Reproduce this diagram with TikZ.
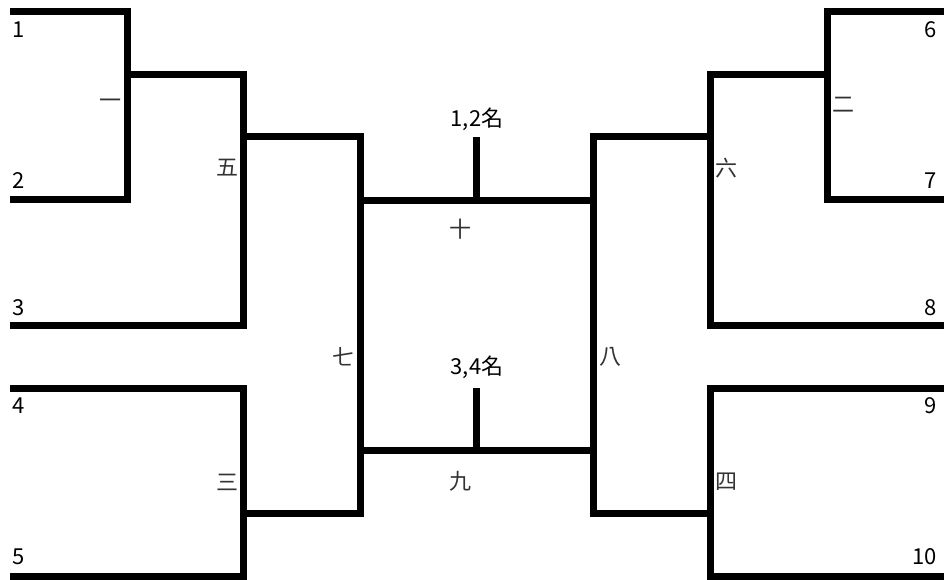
\documentclass[tikz,border=0pt]{standalone}
\usepackage{fontspec}
\setmainfont{Noto Sans CJK TC}
\usetikzlibrary{positioning}

\begin{document}
\begin{tikzpicture}[x=1pt, y=-1pt, line join=miter]
  \tikzstyle{bracket} = [draw, line width=7pt]
  \tikzstyle{seed} = [font=\fontsize{22}{22}\selectfont, inner sep=0pt]
  \tikzstyle{game} = [font=\fontsize{22}{22}\selectfont, text=black!80, inner sep=0pt]
  \useasboundingbox (0,0) rectangle (944,580);

  % entrants
  \coordinate (t1) at (10,12);
  \coordinate (t2) at (10,199);
  \coordinate (t3) at (10,325);
  \coordinate (t4) at (10,388);
  \coordinate (t5) at (10,576);
  \coordinate (t6) at (944,12);
  \coordinate (t7) at (944,199);
  \coordinate (t8) at (944,325);
  \coordinate (t9) at (944,388);
  \coordinate (t10) at (944,576);

  % winners leave here
  \coordinate (m1) at (127,75);
  \coordinate (m2) at (827,75);
  \coordinate (m3) at (243,513);
  \coordinate (m4) at (710,513);
  \coordinate (m5) at (243,137);
  \coordinate (m6) at (710,137);
  \coordinate (m7) at (360,200);
  \coordinate (m8) at (593,200);
  \coordinate (m9) at (476,450);
  \coordinate (m10) at (476,200);
  \coordinate (f9) at (476,388);
  \coordinate (f10) at (476,137);

  % left half
  \draw[bracket] (t1) -| (m1) |- (t2);
  \draw[bracket] (m1) -| (m5) |- (t3);
  \draw[bracket] (t4) -| (m3) |- (t5);
  \draw[bracket] (m5) -| (m7) |- (m3);

  % right half
  \draw[bracket] (t6) -| (m2) |- (t7);
  \draw[bracket] (m2) -| (m6) |- (t8);
  \draw[bracket] (t9) -| (m4) |- (t10);
  \draw[bracket] (m6) -| (m8) |- (m4);

  % final and third place
  \draw[bracket] (m7) -- (m8);
  \draw[bracket] (m10) -- (f10);
  \draw[bracket] (m7 |- m9) -- (m8 |- m9);
  \draw[bracket] (m9) -- (f9);

  % seeds
  \node[seed, anchor=west] (s1) at (12,30) {1};
  \node[seed, anchor=west] (s2) at (12,181) {2};
  \node[seed, anchor=west] (s3) at (12,308) {3};
  \node[seed, anchor=west] (s4) at (12,406) {4};
  \node[seed, anchor=west] (s5) at (12,557) {5};
  \node[seed, anchor=east] (s6) at (937,30) {6};
  \node[seed, anchor=east] (s7) at (937,181) {7};
  \node[seed, anchor=east] (s8) at (937,308) {8};
  \node[seed, anchor=east] (s9) at (937,406) {9};
  \node[seed, anchor=east] (s10) at (937,557) {10};

  % game numbers
  \node[game] (g1) at (110,104) {一};
  \node[game] (g2) at (843,105) {二};
  \node[game] (g3) at (227,482) {三};
  \node[game] (g4) at (726,482) {四};
  \node[game] (g5) at (227,168) {五};
  \node[game] (g6) at (726,168) {六};
  \node[game] (g7) at (343,357) {七};
  \node[game] (g8) at (610,357) {八};
  \node[game] (g9) at (460,481) {九};
  \node[game] (g10) at (460,229) {十};
  \node[seed] (r12) at (477,119) {1,2名};
  \node[seed] (r34) at (477,367) {3,4名};
\end{tikzpicture}
\end{document}
